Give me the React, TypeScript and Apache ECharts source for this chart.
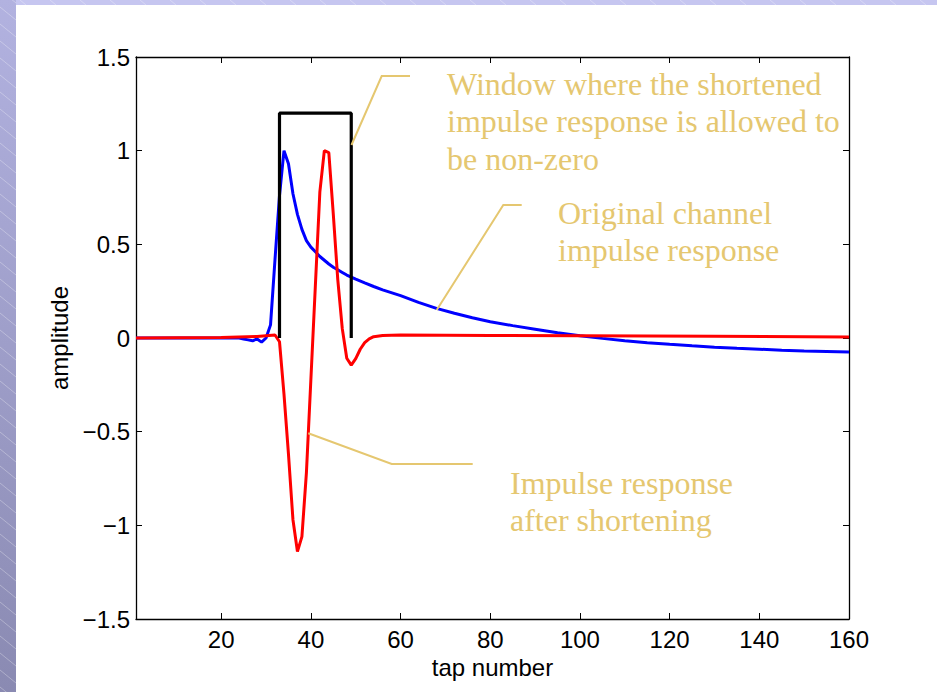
import React, { useEffect, useRef } from "react";
import * as echarts from "echarts";

const xTicks = [20, 40, 60, 80, 100, 120, 140, 160];

const blueTaps = [1, 24, 25, 26, 27, 28, 29, 30, 31, 32, 33, 34, 35, 36, 37, 38, 39, 40, 41, 42, 43, 44, 45, 46, 47, 48, 49, 50, 52, 54, 56, 60, 64, 68, 72, 76, 80, 85, 90, 95, 100, 105, 110, 115, 120, 125, 130, 135, 140, 145, 150, 155, 160];
const blueAmps = [0, 0, -0.005, -0.01, -0.015, -0.005, -0.022, 0.0, 0.07, 0.42, 0.76, 1.0, 0.93, 0.77, 0.66, 0.58, 0.52, 0.485, 0.46, 0.435, 0.415, 0.395, 0.378, 0.364, 0.35, 0.336, 0.325, 0.314, 0.294, 0.275, 0.257, 0.226, 0.19, 0.158, 0.132, 0.108, 0.087, 0.066, 0.047, 0.028, 0.012, -0.002, -0.015, -0.025, -0.034, -0.042, -0.049, -0.055, -0.06, -0.065, -0.069, -0.072, -0.075];

const redTaps = [1, 20, 28, 30, 32, 33, 34, 35, 36, 37, 38, 39, 40, 41, 42, 43, 44, 45, 46, 47, 48, 49, 50, 51, 52, 53, 54, 56, 60, 80, 100, 130, 160];
const redAmps = [0, 0.003, 0.008, 0.012, 0.016, -0.02, -0.3, -0.62, -0.97, -1.14, -1.06, -0.72, -0.22, 0.28, 0.78, 1.0, 0.99, 0.66, 0.31, 0.05, -0.108, -0.145, -0.11, -0.06, -0.025, -0.005, 0.007, 0.013, 0.016, 0.014, 0.012, 0.009, 0.006];

const windowTaps = [33, 33, 49, 49];
const windowAmps = [0, 1.2, 1.2, 0];

const windowLines = ["Window where the shortened", "impulse response is allowed to", "be non-zero"];
const originalLines = ["Original channel", "impulse response"];
const shortenedLines = ["Impulse response", "after shortening"];

const GOLD = "rgb(229,199,112)";
const SERIF = "'Liberation Serif', 'Times New Roman', serif";
const SANS = "'Liberation Sans', Arial, sans-serif";

const zip = (a: number[], b: number[]) => a.map((v, i) => [v, b[i]]);
const fmtY = (v: number) => (v < 0 ? "\u2212" + Math.abs(v) : String(v));

export default function App() {
  const ref = useRef<HTMLDivElement>(null);
  useEffect(() => {
    document.body.style.margin = "0";
    const chart = echarts.init(ref.current!, undefined, { renderer: "svg" });
    const textLines = (lines: string[], x: number, ys: number[]) =>
      lines.map((t, i) => ({
        type: "text",
        x,
        y: ys[i],
        z: 100,
        style: { text: t, fill: GOLD, font: `32px ${SERIF}`, verticalAlign: "middle", align: "left" },
      }));
    const leader = (pts: number[][]) => ({
      type: "polyline",
      z: 100,
      shape: { points: pts },
      style: { stroke: GOLD, lineWidth: 2, fill: "none" },
    });
    const stripes: any[] = [];
    for (let y = -10; y < 692; y += 17) {
      stripes.push({
        type: "line",
        z: -9,
        silent: true,
        shape: { x1: 0, y1: y, x2: 16, y2: y + 13 },
        style: { stroke: "rgba(255,255,255,0.3)", lineWidth: 1 },
      });
    }
    for (let x = 20; x < 937; x += 30) {
      stripes.push({
        type: "line",
        z: -9,
        silent: true,
        shape: { x1: x, y1: 0, x2: x + 6, y2: 5 },
        style: { stroke: "rgba(255,255,255,0.3)", lineWidth: 1 },
      });
    }
    const axisCommon = {
      type: "value" as const,
      axisLine: { show: true, onZero: false, lineStyle: { color: "#000", width: 1.3 } },
      splitLine: { show: false },
    };
    chart.setOption({
      animation: false,
      backgroundColor: "#fff",
      grid: { left: 136, top: 57, width: 713, height: 562, containLabel: false },
      xAxis: [
        {
          ...axisCommon,
          min: 1,
          max: 160,
          position: "bottom",
          name: "tap number",
          nameLocation: "middle",
          nameGap: 33,
          nameTextStyle: { color: "#000", fontFamily: SANS, fontSize: 24 },
          axisTick: { show: true, inside: true, length: 6, customValues: xTicks, lineStyle: { color: "#000" } },
          axisLabel: { show: true, customValues: xTicks, color: "#000", fontFamily: SANS, fontSize: 24, margin: 8 },
        },
        {
          ...axisCommon,
          min: 1,
          max: 160,
          position: "top",
          axisTick: { show: true, inside: true, length: 6, customValues: xTicks, lineStyle: { color: "#000" } },
          axisLabel: { show: false },
        },
      ],
      yAxis: [
        {
          ...axisCommon,
          min: -1.5,
          max: 1.5,
          interval: 0.5,
          position: "left",
          name: "amplitude",
          nameLocation: "middle",
          nameGap: 60,
          nameRotate: 90,
          nameTextStyle: { color: "#000", fontFamily: SANS, fontSize: 24 },
          axisTick: { show: true, inside: true, length: 6, lineStyle: { color: "#000" } },
          axisLabel: { color: "#000", fontFamily: SANS, fontSize: 24, margin: 6, formatter: fmtY },
        },
        {
          ...axisCommon,
          min: -1.5,
          max: 1.5,
          interval: 0.5,
          position: "right",
          axisTick: { show: true, inside: true, length: 6, lineStyle: { color: "#000" } },
          axisLabel: { show: false },
        },
      ],
      series: [
        {
          type: "line",
          name: "Original",
          data: zip(blueTaps, blueAmps),
          showSymbol: false,
          lineStyle: { color: "#0000ff", width: 3 },
          z: 2,
        },
        {
          type: "line",
          name: "Shortened",
          data: zip(redTaps, redAmps),
          showSymbol: false,
          lineStyle: { color: "#ff0000", width: 3 },
          z: 3,
        },
        {
          type: "line",
          name: "Window",
          data: zip(windowTaps, windowAmps),
          showSymbol: false,
          lineStyle: { color: "#000", width: 3.2 },
          z: 4,
        },
      ],
      graphic: [
        {
          type: "rect",
          z: -10,
          shape: { x: 0, y: 0, width: 937, height: 5 },
          style: { fill: "#c6c6f0" },
        },
        {
          type: "rect",
          z: -10,
          shape: { x: 0, y: 0, width: 16, height: 692 },
          style: {
            fill: new echarts.graphic.LinearGradient(0, 0, 0, 1, [
              { offset: 0, color: "#b2b2e0" },
              { offset: 1, color: "#8a8ab2" },
            ]),
          },
        },
        ...stripes,
        leader([[410, 76], [381.7, 76], [351.5, 145]]),
        leader([[521.7, 205], [503.3, 205], [436.7, 310]]),
        leader([[472.7, 464], [391.7, 464], [308.3, 433.3]]),
        ...textLines(windowLines, 447, [84, 121, 159]),
        ...textLines(originalLines, 558, [213, 250]),
        ...textLines(shortenedLines, 510, [483, 520]),
      ],
    });
    return () => chart.dispose();
  }, []);
  return <div ref={ref} style={{ width: 937, height: 692 }} />;
}
